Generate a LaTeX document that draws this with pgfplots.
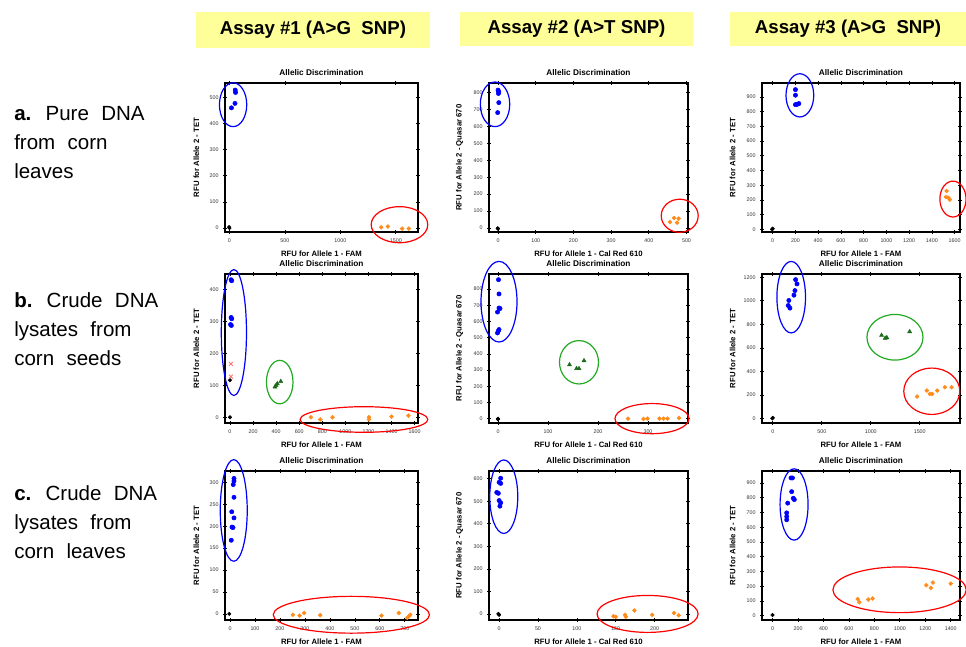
\documentclass[border=0pt]{standalone}
\usepackage{pgfplots}
\pgfplotsset{compat=1.18}
\usepackage{fontspec}
\setmainfont{Liberation Sans}
\definecolor{cblue}{HTML}{0000FF}
\definecolor{corange}{HTML}{FF8C1A}
\definecolor{cgreen}{HTML}{1A6B1A}
\definecolor{egreen}{HTML}{22AA22}
\definecolor{ered}{HTML}{FF0000}
\definecolor{cpink}{HTML}{FF7070}
\definecolor{hyellow}{HTML}{FFFF99}
\newcommand{\tickfont}{\fontsize{4}{4.5}\selectfont}
\newcommand{\labfont}{\fontsize{5.8}{6.5}\selectfont\bfseries}
\newcommand{\titfont}{\fontsize{6.2}{7}\selectfont\bfseries}
\newcommand{\rowfont}{\fontsize{15.4}{18}\selectfont\spaceskip=0.6em plus 0.1em}
\newcommand{\headfont}{\fontsize{14}{16}\selectfont\bfseries}
\tikzset{
 eb/.style={draw=cblue, line width=0.9pt},
 er/.style={draw=ered, line width=0.9pt},
 eg/.style={draw=egreen, line width=0.9pt},
}
\pgfplotsset{
 panel/.style={scale only axis, height=111.75pt, clip=false, anchor=north west,
  title={Allelic Discrimination},
  title style={font=\titfont, at={(axis description cs:0.5,1)}, anchor=center, yshift=2pt},
  xlabel style={font=\labfont, at={(axis description cs:0.5,0)}, anchor=center, yshift=-16pt},
  ylabel style={font=\labfont, at={(axis description cs:-0.148,0.5)}, anchor=center},
  tick label style={font=\tickfont, text=black!80},
  /pgf/number format/assume math mode=true,
  /pgf/number format/1000 sep={},
  axis line style={line width=1.1pt},
  tick style={black, line width=0.5pt},
  major tick length=2.6pt, minor tick length=1.8pt,
  tick align=center, minor tick num=4,
 },
 blu/.style={only marks, mark=*, mark size=1.6pt, color=cblue},
 ora/.style={only marks, mark=*, mark size=1.45pt, color=corange},
 grn/.style={only marks, mark=triangle*, mark size=1.7pt, color=cgreen},
 blk/.style={only marks, mark=*, mark size=1.3pt, color=black},
 pnk/.style={only marks, mark=x, mark size=2pt, color=cpink, line width=0.6pt},
}
\begin{document}
\begin{tikzpicture}
\path[use as bounding box] (0,0) rectangle (724.5pt,-484.5pt);
\begin{scope}[x=0.75pt,y=-0.75pt]
\node[fill=hyellow, minimum width=175.5pt, minimum height=27pt, inner sep=0pt, font=\headfont] at (313,30) {Assay \#1 (A>G\ \ SNP)};
\node[fill=hyellow, minimum width=174.75pt, minimum height=25.5pt, inner sep=0pt, font=\headfont] at (576.5,29) {Assay \#2 (A>T SNP)};
\node[fill=hyellow, minimum width=177pt, minimum height=25.5pt, inner sep=0pt, font=\headfont] at (848,29) {Assay \#3 (A>G\ \ SNP)};
\node[anchor=base west, font=\rowfont, inner sep=0pt] at (14,120.7) {\textbf{a.} Pure DNA};
\node[anchor=base west, font=\rowfont, inner sep=0pt] at (14,149.3) {from corn};
\node[anchor=base west, font=\rowfont, inner sep=0pt] at (14,178.3) {leaves};
\node[anchor=base west, font=\rowfont, inner sep=0pt] at (14,307.7) {\textbf{b.} Crude DNA};
\node[anchor=base west, font=\rowfont, inner sep=0pt] at (14,336.3) {lysates from};
\node[anchor=base west, font=\rowfont, inner sep=0pt] at (14,365.3) {corn seeds};
\node[anchor=base west, font=\rowfont, inner sep=0pt] at (14,500.7) {\textbf{c.} Crude DNA};
\node[anchor=base west, font=\rowfont, inner sep=0pt] at (14,529.3) {lysates from};
\node[anchor=base west, font=\rowfont, inner sep=0pt] at (14,558.3) {corn leaves};
\end{scope}

% ---------- Row a ----------
\begin{axis}[panel, at={(168.75pt,-62.25pt)}, width=144.75pt,
 xmin=-40, xmax=1700, ymin=-15, ymax=555,
 xtick={0,500,1000,1500}, ytick={0,100,...,500},
 xlabel={RFU for Allele 1 - FAM}, ylabel={RFU for Allele 2 - TET}]
\addplot[blk] coordinates {(0,0) (-3,4)};
\addplot[blu] coordinates {(52,528) (55,519) (50,477) (18,460)};
\addplot[ora] coordinates {(1368,3) (1428,6) (1557,-2) (1617,-2)};
\draw[eb] (axis cs:33,472) ellipse [x radius=123, y radius=84];
\draw[er] (axis cs:1533,13) ellipse [x radius=255, y radius=69];
\end{axis}

\begin{axis}[panel, at={(366.75pt,-62.25pt)}, width=149.25pt,
 xmin=-24, xmax=504, ymin=-24, ymax=857,
 xtick={0,100,...,500}, ytick={0,100,...,800},
 xlabel={RFU for Allele 1 - Cal Red 610}, ylabel={RFU for Allele 2 - Quasar 670}]
\addplot[blk] coordinates {(0,-5) (-1,-2)};
\addplot[blu] coordinates {(0,815) (2,805) (1,795) (2,741) (-1,682)};
\addplot[ora] coordinates {(456,35) (467,59) (479,55) (475,31)};
\draw[eb] (axis cs:-8,731) ellipse [x radius=39, y radius=132];
\draw[er] (axis cs:482,72) ellipse [x radius=49, y radius=98];
\end{axis}

\begin{axis}[panel, at={(571.5pt,-62.25pt)}, width=148.5pt,
 xmin=-94, xmax=1647, ymin=-18, ymax=995,
 xtick={0,200,...,1600}, ytick={0,100,...,900},
 xlabel={RFU for Allele 1 - FAM}, ylabel={RFU for Allele 2 - TET}]
\addplot[blk] coordinates {(0,5) (-5,0)};
\addplot[blu] coordinates {(200,950) (200,912) (200,848) (230,855) (215,850)};
\addplot[ora] coordinates {(1529,261) (1523,220) (1544,215) (1558,202)};
\draw[eb] (axis cs:239,911) ellipse [x radius=122, y radius=147];
\draw[er] (axis cs:1585,206) ellipse [x radius=115, y radius=122];
\end{axis}

% ---------- Row b ----------
\begin{axis}[panel, at={(168.75pt,-205.5pt)}, width=144.75pt,
 xmin=-43, xmax=1629, ymin=-18, ymax=448,
 xtick={0,200,...,1600}, ytick={0,100,...,400},
 xlabel={RFU for Allele 1 - FAM}, ylabel={RFU for Allele 2 - TET}]
\addplot[blk] coordinates {(0,116) (0,0)};
\addplot[pnk] coordinates {(8,167) (8,127)};
\addplot[blu] coordinates {(10,430) (15,427) (10,312) (15,308) (5,290) (12,287)};
\addplot[grn] coordinates {(390,95) (400,100) (410,105) (440,112)};
\addplot[ora] coordinates {(701,0) (782,-7) (888,0) (1204,0) (1204,-7) (1399,2) (1546,5)};
\draw[eb] (axis cs:34,265) ellipse [x radius=109, y radius=197];
\draw[eg] (axis cs:431,110) ellipse [x radius=115, y radius=68];
\draw[er] (axis cs:1161,-7) ellipse [x radius=553, y radius=40];
\end{axis}

\begin{axis}[panel, at={(366.75pt,-205.5pt)}, width=149.25pt,
 xmin=-18, xmax=380, ymin=-27, ymax=893,
 xtick={0,100,200,300}, ytick={0,100,...,800},
 xlabel={RFU for Allele 1 - Cal Red 610}, ylabel={RFU for Allele 2 - Quasar 670}]
\addplot[blk] coordinates {(0,0) (0,-4)};
\addplot[blu] coordinates {(1,858) (2,770) (2,683) (4,680) (-1,658) (2,550) (1,543) (-1,529)};
\addplot[grn] coordinates {(143,333) (157,309) (162,309) (172,358)};
\addplot[ora] coordinates {(260,0) (291,-2) (299,0) (323,0) (331,0) (339,0) (362,4)};
\draw[eb] (axis cs:2,722) ellipse [x radius=36, y radius=249];
\draw[eg] (axis cs:162,348) ellipse [x radius=39, y radius=134];
\draw[er] (axis cs:308,0) ellipse [x radius=74, y radius=93];
\end{axis}

\begin{axis}[panel, at={(571.5pt,-205.5pt)}, width=148.5pt,
 xmin=-110, xmax=1911, ymin=-39, ymax=1228,
 xtick={0,500,1000,1500}, ytick={0,200,...,1200},
 xlabel={RFU for Allele 1 - FAM}, ylabel={RFU for Allele 2 - TET}]
\addplot[blk] coordinates {(0,5) (-5,0)};
\addplot[blu] coordinates {(233,1180) (247,1144) (226,1087) (216,1048) (164,1003) (158,960) (175,938)};
\addplot[grn] coordinates {(1110,707) (1147,682) (1164,687) (1397,738)};
\addplot[ora] coordinates {(1473,186) (1572,237) (1603,208) (1627,208) (1678,237) (1757,265) (1825,265)};
\draw[eb] (axis cs:188,1031) ellipse [x radius=146, y radius=304];
\draw[eg] (axis cs:1247,690) ellipse [x radius=286, y radius=194];
\draw[er] (axis cs:1623,231) ellipse [x radius=286, y radius=197];
\end{axis}

% ---------- Row c ----------
\begin{axis}[panel, at={(168.75pt,-353.25pt)}, width=144.75pt,
 xmin=-20, xmax=753, ymin=-14, ymax=326,
 xtick={0,100,...,700}, ytick={0,50,...,300},
 xlabel={RFU for Allele 1 - FAM}, ylabel={RFU for Allele 2 - TET}]
\addplot[blk] coordinates {(-3,0)};
\addplot[blu] coordinates {(16,309) (16,303) (13,295) (16,266) (7,233) (16,219) (8,198) (12,197) (5,168)};
\addplot[ora] coordinates {(252,-2) (279,-4) (297,2) (361,-3) (607,-4) (676,2) (710,-9) (717,-5) (722,-2)};
\draw[eb] (axis cs:15,236) ellipse [x radius=54, y radius=116];
\draw[er] (axis cs:486,-2) ellipse [x radius=313, y radius=42];
\end{axis}

\begin{axis}[panel, at={(366.75pt,-353.25pt)}, width=149.25pt,
 xmin=-13, xmax=243, ymin=-27, ymax=634,
 xtick={0,50,...,200}, ytick={0,100,...,600},
 xlabel={RFU for Allele 1 - Cal Red 610}, ylabel={RFU for Allele 2 - Quasar 670}]
\addplot[blk] coordinates {(-1,0) (0,-4)};
\addplot[blu] coordinates {(2,602) (0,584) (2,579) (-3,539) (-1,535) (0,503) (2,493) (1,478)};
\addplot[ora] coordinates {(147,-10) (150,-13) (162,-4) (163,-13) (174,15) (197,-4) (225,4) (231,-6)};
\draw[eb] (axis cs:6,520) ellipse [x radius=18, y radius=163];
\draw[er] (axis cs:191,0) ellipse [x radius=65, y radius=82];
\end{axis}

\begin{axis}[panel, at={(571.5pt,-353.25pt)}, width=148.5pt,
 xmin=-83, xmax=1473, ymin=-29, ymax=982,
 xtick={0,200,...,1400}, ytick={0,100,...,900},
 xlabel={RFU for Allele 1 - FAM}, ylabel={RFU for Allele 2 - TET}]
\addplot[blk] coordinates {(0,5)};
\addplot[blu] coordinates {(145,935) (156,935) (150,842) (163,797) (171,788) (119,764) (111,698) (111,673) (111,651)};
\addplot[ora] coordinates {(669,113) (682,92) (752,110) (786,117) (1208,207) (1244,189) (1260,225) (1400,218)};
\draw[eb] (axis cs:169,755) ellipse [x radius=110, y radius=242];
\draw[er] (axis cs:998,176) ellipse [x radius=524, y radius=155];
\end{axis}
\end{tikzpicture}
\end{document}
